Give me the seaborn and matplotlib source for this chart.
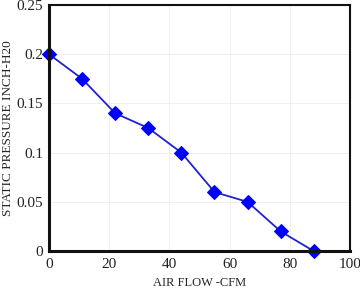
import numpy as np
import pandas as pd
import seaborn as sns
import matplotlib
matplotlib.use("Agg")
import matplotlib.pyplot as plt

air_flow = [0, 11, 22, 33, 44, 55, 66, 77, 88]
static_pressure = [0.2, 0.175, 0.14, 0.125, 0.1, 0.06, 0.05, 0.02, 0.0]
x_ticks = [0, 20, 40, 60, 80, 100]
y_ticks = [0, 0.05, 0.1, 0.15, 0.2, 0.25]
y_labels = ["0", "0.05", "0.1", "0.15", "0.2", "0.25"]

df = pd.DataFrame({"air_flow": air_flow, "pressure": static_pressure})

sns.set_style("white")
plt.rcParams['font.family'] = ['Liberation Serif', 'DejaVu Serif']

fig = plt.figure(figsize=(3.6, 2.89), dpi=100)
ax = fig.add_axes([0.136, 0.131, 0.836, 0.852])

sns.lineplot(data=df, x="air_flow", y="pressure", color="#2222cc", linewidth=1.3,
             marker="D", markersize=7, markerfacecolor="#0000ff",
             markeredgecolor="#0000ff", ax=ax, clip_on=False)

ax.set_xlim(0, 100)
ax.set_ylim(0, 0.25)
ax.set_xticks(x_ticks)
ax.set_yticks(y_ticks)
ax.set_yticklabels(y_labels)
ax.grid(True, color="#ececec", linewidth=0.6)
ax.tick_params(direction="in", length=4, labelsize=11, colors="#222222", pad=4)
ax.tick_params(axis="x", pad=5)

for name, sp in ax.spines.items():
    sp.set_color("#111111")
    sp.set_linewidth(1.5)
ax.spines["left"].set_linewidth(2.2)
ax.spines["bottom"].set_linewidth(2.2)

ax.set_xlabel("AIR FLOW -CFM", fontsize=9, labelpad=4)
ax.set_ylabel("STATIC PRESSURE INCH-H20", fontsize=9.5, labelpad=2)

fig.savefig("out.png", dpi=100)
